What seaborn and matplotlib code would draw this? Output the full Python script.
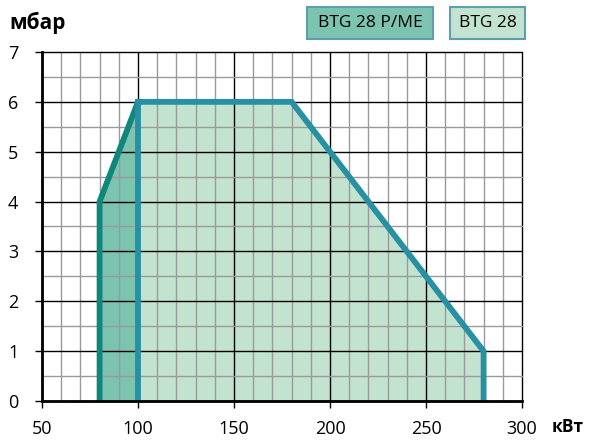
import matplotlib
matplotlib.use("Agg")
import matplotlib.pyplot as plt
import seaborn as sns
import pandas as pd
from matplotlib.patches import FancyBboxPatch

# Data
pme_x = [80, 80, 100, 100]
pme_y = [0, 4, 6, 0]
btg_x = [100, 100, 180, 280, 280]
btg_y = [0, 6, 6, 1, 0]
series_names = ["BTG 28 P/ME", "BTG 28"]
x_ticks = [50, 100, 150, 200, 250, 300]
y_ticks = [0, 1, 2, 3, 4, 5, 6, 7]

sns.set_style("white")
plt.rcParams['font.family'] = ['Open Sans', 'DejaVu Sans']
plt.rcParams['text.color'] = 'black'

fig = plt.figure(figsize=(5.94, 4.41), dpi=100)
ax = fig.add_axes([0.0707, 0.0907, 0.8081, 0.7914])

pme_fill = "#7dc4b0"
pme_edge = "#0f877d"
btg_fill = "#c2e3d0"
btg_edge = "#2790a3"

ax.fill(pme_x, pme_y, color=pme_fill, zorder=1, lw=0)
ax.fill(btg_x, btg_y, color=btg_fill, zorder=1, lw=0)

# grid
for xv in range(50, 301, 10):
    major = xv % 50 == 0
    ax.axvline(xv, color="black" if major else "#9a9a9a", lw=1.0, zorder=2, clip_on=False)
for k in range(0, 15):
    yv = k * 0.5
    major = k % 2 == 0
    ax.axhline(yv, color="black" if major else "#9a9a9a", lw=1.0, zorder=2, clip_on=False)

df_pme = pd.DataFrame({"x": pme_x[:3], "y": pme_y[:3]})
df_btg = pd.DataFrame({"x": btg_x, "y": btg_y})
sns.lineplot(data=df_pme, x="x", y="y", sort=False, estimator=None, color=pme_edge, lw=4.2, ax=ax,
             zorder=4, solid_capstyle="round", solid_joinstyle="miter")
sns.lineplot(data=df_btg, x="x", y="y", sort=False, estimator=None, color=btg_edge, lw=4.2, ax=ax,
             zorder=5, solid_capstyle="round", solid_joinstyle="miter")

ax.set_xlim(50, 300)
ax.set_ylim(0, 7)
ax.set_xticks(x_ticks)
ax.set_yticks(y_ticks)
ax.set_xlabel("")
ax.set_ylabel("")
ax.tick_params(axis="both", labelsize=13, length=5, width=1, direction="out",
               color="black", labelcolor="black")
ax.tick_params(axis="x", pad=9)
ax.tick_params(axis="y", pad=12)
for s in ["left", "bottom"]:
    ax.spines[s].set_color("black")
    ax.spines[s].set_linewidth(2)
    ax.spines[s].set_zorder(6)
for s in ["top", "right"]:
    ax.spines[s].set_visible(False)
ax.xaxis.set_ticks_position("bottom")
ax.yaxis.set_ticks_position("left")

fig.text(0.015, 0.948, "мбар", fontsize=15, fontweight="bold", ha="left", va="center", color="black")
fig.text(0.929, 0.012, "кВт", fontsize=12.5, fontweight="bold", ha="left", va="bottom", color="black")

# legend boxes
def legbox(x0, x1, fill, label):
    W, H = 594, 441
    y0, y1 = 441 - 39, 441 - 7
    p = FancyBboxPatch((x0 / W, y0 / H), (x1 - x0) / W, (y1 - y0) / H,
                       boxstyle="square,pad=0", transform=fig.transFigure,
                       facecolor=fill, edgecolor="#5d9fae", lw=1.5)
    fig.patches.append(p)
    fig.text((x0 + x1) / 2 / W, (y0 + y1) / 2 / H, label, fontsize=12.5,
             ha="center", va="center", color="black")

legbox(307, 433, pme_fill, series_names[0])
legbox(450, 525, btg_fill, series_names[1])

fig.savefig("out.png", dpi=100)
